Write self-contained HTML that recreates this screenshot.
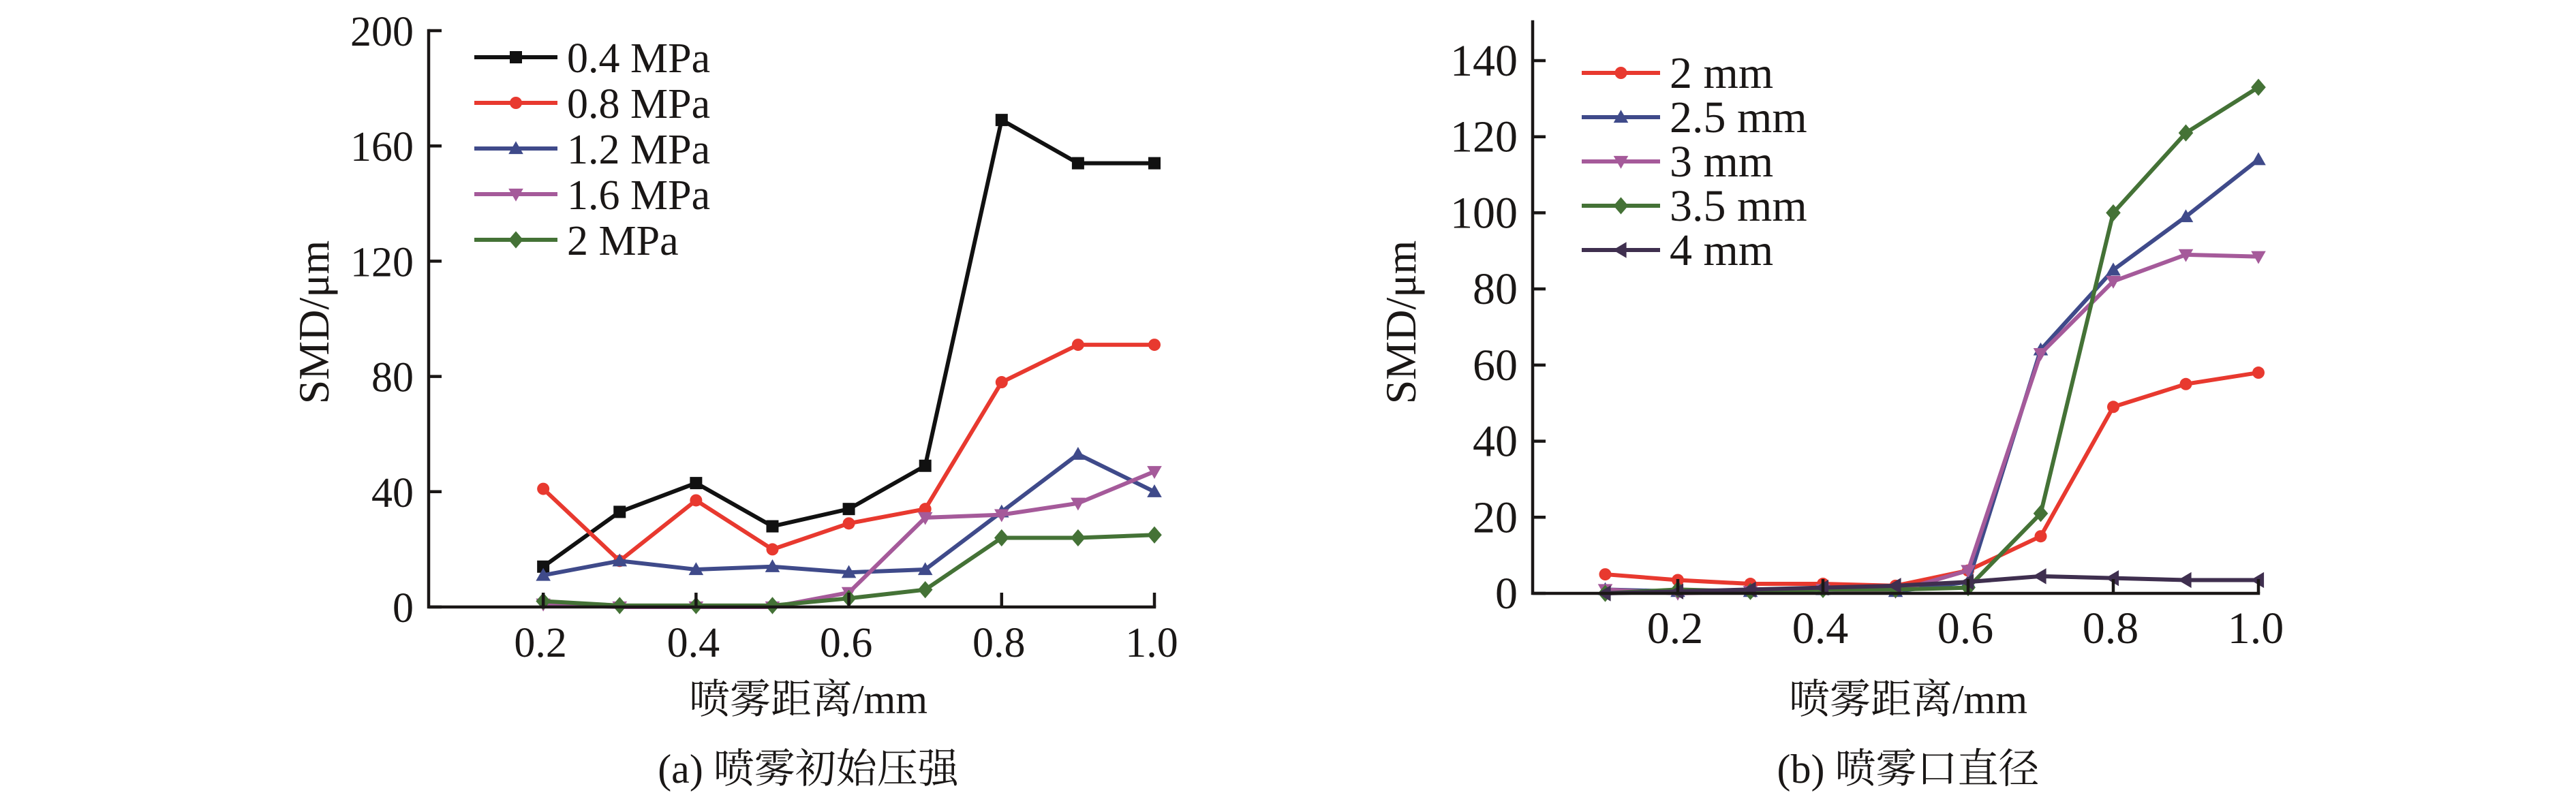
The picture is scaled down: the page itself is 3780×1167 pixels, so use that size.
<!DOCTYPE html>
<html><head><meta charset="utf-8"><style>
html,body{margin:0;padding:0;background:#fff;}
svg{display:block;}
text{font-family:"Liberation Serif","Noto Serif CJK SC",serif;fill:#1a1716;}
</style></head>
<body>
<svg id="fig" width="3780" height="1167" viewBox="0 0 3780 1167" xmlns="http://www.w3.org/2000/svg">
<rect width="3780" height="1167" fill="#fff"/>
<g id="chartA"></g>
<g id="chartB"></g>
</svg>
<script>
// ---- Chart A data ----
const xA = [0.2,0.3,0.4,0.5,0.6,0.7,0.8,0.9,1.0];
const a04 = [14,33,43,28,34,49,169,154,154];
const a08 = [41,16,37,20,29,34,78,91,91];
const a12 = [11,16,13,14,12,13,33,53,40];
const a16 = [1,0,0,0,5,31,32,36,47];
const a20 = [2,0.5,0.5,0.5,3,6,24,24,25];
const namesA = ["0.4 MPa","0.8 MPa","1.2 MPa","1.6 MPa","2 MPa"];
const yTicksA = [0,40,80,120,160,200];
const xTicksA = [0.2,0.4,0.6,0.8,1.0];
const xTickLabelsA = ["0.2","0.4","0.6","0.8","1.0"];
// ---- Chart B data ----
const xB = [0.1,0.2,0.3,0.4,0.5,0.6,0.7,0.8,0.9,1.0];
const b20 = [5,3.5,2.5,2.5,2,6,15,49,55,58];
const b25 = [1,0.5,0.5,1,0.5,3,64,85,99,114];
const b30 = [1,0,0.5,1,0.5,6,63,82,89,88.5];
const b35 = [0,1,0.5,1,1,1.5,21,100,121,133];
const b40 = [0,0.5,1,1.5,2,3,4.5,4,3.5,3.5];
const namesB = ["2 mm","2.5 mm","3 mm","3.5 mm","4 mm"];
const yTicksB = [0,20,40,60,80,100,120,140];
const xTicksB = [0.2,0.4,0.6,0.8,1.0];
const xTickLabelsB = ["0.2","0.4","0.6","0.8","1.0"];

const NS="http://www.w3.org/2000/svg";
function mk(tag, attrs, parent){const e=document.createElementNS(NS,tag);for(const k in attrs)e.setAttribute(k,attrs[k]);parent.appendChild(e);return e;}
function marker(g,type,cx,cy,color,s){
  let e;
  if(type==="square") e=mk("rect",{x:cx-s,y:cy-s,width:2*s,height:2*s,fill:color},g);
  else if(type==="circle") e=mk("circle",{cx:cx,cy:cy,r:s,fill:color},g);
  else if(type==="up") e=mk("polygon",{points:`${cx},${cy-s*1.2} ${cx-s*1.2},${cy+s*0.9} ${cx+s*1.2},${cy+s*0.9}`,fill:color},g);
  else if(type==="down") e=mk("polygon",{points:`${cx},${cy+s*1.2} ${cx-s*1.2},${cy-s*0.9} ${cx+s*1.2},${cy-s*0.9}`,fill:color},g);
  else if(type==="diamond") e=mk("polygon",{points:`${cx},${cy-s*1.4} ${cx+s*1.2},${cy} ${cx},${cy+s*1.4} ${cx-s*1.2},${cy}`,fill:color},g);
  else e=mk("polygon",{points:`${cx-s*1.3},${cy} ${cx+s*0.9},${cy-s*1.3} ${cx+s*0.9},${cy+s*1.3}`,fill:color},g);
  return e;
}
function drawChart(cfg){
  const g=document.getElementById(cfg.id);
  const X=v=>cfg.x0+(v-cfg.xmin)/(cfg.xmax-cfg.xmin)*(cfg.x1-cfg.x0);
  const Y=v=>cfg.y0-(v-cfg.ymin)/(cfg.ymax-cfg.ymin)*(cfg.y0-cfg.y1);
  // series
  cfg.series.forEach((s,i)=>{
    const sg=mk("g",{},g);
    
    
    const pts=s.vals.map((v,j)=>X(cfg.xs[j])+","+Y(v)).join(" ");
    const pl=mk("polyline",{points:pts,fill:"none",stroke:s.color,"stroke-width":6,"stroke-linejoin":"miter"},sg);
    
    
    s.vals.forEach((v,j)=>{
      const m=marker(sg,s.type,X(cfg.xs[j]),Y(v),s.color,9);
      
      
    });
  });
  // axes
  const ax=mk("path",{d:`M${cfg.x0},${cfg.y1-cfg.ext} L${cfg.x0},${cfg.y0} L${cfg.x1},${cfg.y0}`,fill:"none",stroke:"#1a1716","stroke-width":4.5,"stroke-linecap":"square"},g);
  
  
  cfg.yTicks.forEach(t=>{
    const y=Y(t);
    const l=mk("line",{x1:cfg.x0,y1:y,x2:cfg.x0+19,y2:y,stroke:"#1a1716","stroke-width":4.5},g);
    
    
    const tx=mk("text",{x:cfg.x0-22,y:y+22,"text-anchor":"end","font-size":cfg.fs},g);
    tx.textContent=String(t);
    
    
  });
  cfg.xTicks.forEach((t,i)=>{
    const x=X(t);
    const l=mk("line",{x1:x,y1:cfg.y0,x2:x,y2:cfg.y0-21,stroke:"#1a1716","stroke-width":4.5},g);
    
    
    const tx=mk("text",{x:x-4,y:cfg.y0+73,"text-anchor":"middle","font-size":cfg.fs},g);
    tx.textContent=cfg.xLabels[i];
    
    
  });
  // legend
  cfg.series.forEach((s,i)=>{
    const y=cfg.legY+i*cfg.legDy;
    const lg=mk("g",{},g);
    
    
    mk("line",{x1:cfg.legX0,y1:y,x2:cfg.legX1,y2:y,stroke:s.color,"stroke-width":6},lg);
    marker(lg,s.type,(cfg.legX0+cfg.legX1)/2,y,s.color,9);
    const tx=mk("text",{x:cfg.legX1+14,y:y+22,"font-size":cfg.fs},lg);
    tx.textContent=s.name;
  });
  // titles
  const yt=mk("text",{transform:`translate(${cfg.yTitleX},${cfg.yTitleY}) rotate(-90)`,"text-anchor":"middle","font-size":64},g);
  yt.textContent="SMD/μm";
  
  
  const xt=mk("text",{x:cfg.titleX,y:1047,"text-anchor":"middle","font-size":60},g);
  xt.textContent="喷雾距离/mm";
  
  
  const cp=mk("text",{x:cfg.titleX,y:1149,"text-anchor":"middle","font-size":60},g);
  cp.textContent=cfg.caption;
  
  
}
drawChart({id:"chartA",x0:629,x1:1694,xmin:0.05,xmax:1.0,y0:891,y1:45,ymin:0,ymax:200,ext:0,
  xs:xA,yTicks:yTicksA,xTicks:xTicksA,xLabels:xTickLabelsA,fs:62,
  legX0:696,legX1:818,legY:84,legDy:67,yTitleX:482,yTitleY:473,titleX:1186,caption:"(a) 喷雾初始压强",
  series:[
    {key:"0-4mpa",name:namesA[0],vals:a04,color:"#111111",type:"square"},
    {key:"0-8mpa",name:namesA[1],vals:a08,color:"#e8392f",type:"circle"},
    {key:"1-2mpa",name:namesA[2],vals:a12,color:"#3f4a8a",type:"up"},
    {key:"1-6mpa",name:namesA[3],vals:a16,color:"#a55a9a",type:"down"},
    {key:"2mpa",name:namesA[4],vals:a20,color:"#447236",type:"diamond"}]});
drawChart({id:"chartB",x0:2249,x1:3314,xmin:0,xmax:1.0,y0:871,y1:89,ymin:0,ymax:140,ext:57,
  xs:xB,yTicks:yTicksB,xTicks:xTicksB,xLabels:xTickLabelsB,fs:66,
  legX0:2321,legX1:2436,legY:107,legDy:65,yTitleX:2077,yTitleY:473,titleX:2800,caption:"(b) 喷雾口直径",
  series:[
    {key:"2mm",name:namesB[0],vals:b20,color:"#e8392f",type:"circle"},
    {key:"2-5mm",name:namesB[1],vals:b25,color:"#3f4a8a",type:"up"},
    {key:"3mm",name:namesB[2],vals:b30,color:"#a55a9a",type:"down"},
    {key:"3-5mm",name:namesB[3],vals:b35,color:"#447236",type:"diamond"},
    {key:"4mm",name:namesB[4],vals:b40,color:"#3f2f4f",type:"left"}]});
</script>
</body></html>
